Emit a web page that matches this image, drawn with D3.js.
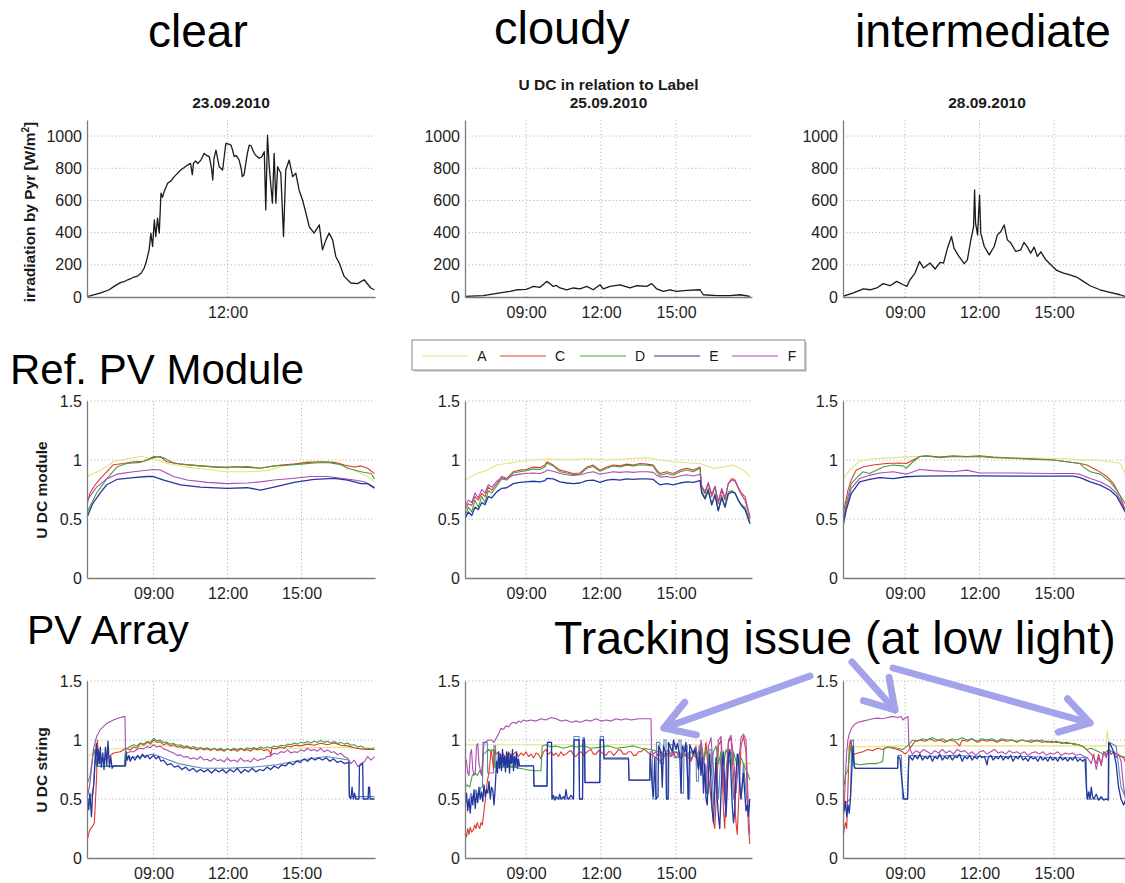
<!DOCTYPE html>
<html>
<head>
<meta charset="utf-8">
<script src="https://cdn.jsdelivr.net/npm/d3@7"></script>
<style>
  body { margin: 0; background: #fff; }
  svg { display: block; }
  text { font-family: "Liberation Sans", Arial, Helvetica, sans-serif; }
</style>
</head>
<body>
<svg id="fig" width="1125" height="883"></svg>
<script>
// ---------------------------------------------------------------
// Data: time of day in decimal hours, value
// ---------------------------------------------------------------
const dayLabels = ["23.09.2010", "25.09.2010", "28.09.2010"];
const dayKinds = ["clear", "cloudy", "intermediate"];
const hourTicks = [9, 12, 15];
const hourLabels = ["09:00", "12:00", "15:00"];
const irrTicks = [0, 200, 400, 600, 800, 1000];
const udcTicks = [0, 0.5, 1, 1.5];
const seriesNames = ["A", "C", "D", "E", "F"];
const seriesColors = ["#e4e47c", "#df3a30", "#43a043", "#24379f", "#a84db2"];
const extraName = "B";
const extraColor = "#5f86b8";

// Pyranometer irradiation [W/m2]
const irrClear = [[6.35,4],[6.86,25],[7.2,45],[7.4,66],[7.55,80],[7.68,91],[7.8,95],[7.95,107],[8.05,112],[8.2,124],[8.35,130],[8.5,149],[8.62,180],[8.69,211],[8.82,293],[8.89,397],[8.96,314],[9.03,479],[9.09,376],[9.16,490],[9.23,397],[9.3,645],[9.36,620],[9.43,655],[9.57,707],[9.7,720],[9.84,748],[9.95,765],[10.1,789],[10.2,800],[10.38,820],[10.5,830],[10.57,760],[10.62,832],[10.7,845],[10.8,830],[10.92,851],[11.05,893],[11.15,880],[11.26,872],[11.35,800],[11.4,727],[11.45,860],[11.53,913],[11.66,810],[11.8,789],[11.93,955],[12.05,950],[12.14,944],[12.2,915],[12.27,872],[12.35,880],[12.47,851],[12.55,800],[12.6,748],[12.67,760],[12.74,830],[12.8,890],[12.88,944],[12.95,940],[13.08,893],[13.15,880],[13.28,862],[13.38,870],[13.49,903],[13.55,541],[13.62,1006],[13.69,810],[13.82,583],[13.89,893],[13.96,583],[14.03,810],[14.16,769],[14.27,376],[14.36,789],[14.5,851],[14.64,748],[14.77,769],[14.9,665],[15.04,603],[15.18,521],[15.31,438],[15.51,397],[15.72,448],[15.85,293],[15.99,355],[16.12,397],[16.26,355],[16.39,252],[16.53,211],[16.73,128],[17.0,87],[17.27,83],[17.54,107],[17.81,56],[17.95,45]];
const irrCloudy = [[6.56,4],[7.29,8],[7.96,25],[8.36,35],[8.63,45],[9.0,48],[9.16,56],[9.29,66],[9.56,60],[9.83,97],[9.96,83],[10.09,66],[10.22,72],[10.36,56],[10.63,45],[10.89,56],[11.16,50],[11.43,66],[11.69,45],[11.96,76],[12.09,50],[12.36,66],[12.76,76],[13.16,56],[13.43,70],[13.83,66],[14.03,83],[14.23,50],[14.49,35],[14.76,45],[15.03,35],[15.43,41],[15.96,45],[16.09,14],[16.63,8],[17.16,8],[17.56,14],[17.96,4]];
const irrInter = [[6.49,4],[6.92,25],[7.32,50],[7.59,45],[7.86,56],[8.12,83],[8.4,70],[8.66,97],[8.93,76],[9.07,66],[9.2,107],[9.4,149],[9.58,221],[9.74,180],[10.01,211],[10.21,174],[10.41,215],[10.55,210],[10.71,304],[10.87,376],[10.97,304],[11.17,252],[11.38,207],[11.51,231],[11.65,355],[11.76,438],[11.8,665],[11.84,459],[11.92,386],[12.0,634],[12.05,397],[12.19,314],[12.39,262],[12.59,314],[12.72,386],[12.86,407],[12.99,448],[13.12,355],[13.26,335],[13.46,283],[13.66,293],[13.79,339],[13.93,310],[14.06,273],[14.2,310],[14.33,252],[14.47,281],[14.67,231],[14.94,190],[15.11,165],[15.38,149],[15.64,138],[15.91,124],[16.18,97],[16.45,70],[16.85,45],[17.25,29],[17.66,14],[17.86,4]];

// Reference module U DC, relative to label
const modClearA = [[6.31,0.86],[6.83,0.91],[7.37,0.985],[7.91,1.01],[8.46,1.03],[9.0,1.01],[9.54,0.97],[10.36,0.94],[11.17,0.92],[11.99,0.9],[12.8,0.9],[13.61,0.91],[14.43,0.96],[15.24,0.985],[16.06,0.985],[16.6,0.97],[17.14,0.91],[17.68,0.86],[17.96,0.815]];
const modClearC = [[6.31,0.63],[6.42,0.72],[6.63,0.79],[6.83,0.84],[7.1,0.9],[7.37,0.96],[7.78,0.97],[8.19,0.985],[8.59,0.99],[9.0,1.02],[9.27,1.03],[9.54,0.985],[10.09,0.965],[10.9,0.95],[11.58,0.94],[12.0,0.935],[12.26,0.945],[12.5,0.94],[13.07,0.935],[13.3,0.93],[13.61,0.94],[14.16,0.957],[14.7,0.965],[15.24,0.98],[15.78,0.985],[16.33,0.98],[16.73,0.957],[17.14,0.94],[17.41,0.95],[17.68,0.93],[17.96,0.885]];
const modClearD = [[6.31,0.56],[6.69,0.72],[7.1,0.84],[7.51,0.94],[7.91,0.97],[8.46,0.98],[8.73,1.0],[9.0,1.03],[9.41,1.02],[9.81,0.975],[10.36,0.96],[10.9,0.95],[11.58,0.94],[12.26,0.94],[12.8,0.945],[13.34,0.93],[13.88,0.95],[14.43,0.955],[14.98,0.965],[15.51,0.975],[16.06,0.98],[16.6,0.96],[16.87,0.93],[17.41,0.9],[17.82,0.885],[17.96,0.84]];
const modClearE = [[6.31,0.52],[6.53,0.63],[6.83,0.72],[7.1,0.79],[7.51,0.835],[8.19,0.85],[8.73,0.86],[9.0,0.86],[9.41,0.83],[10.09,0.79],[10.9,0.77],[11.99,0.76],[12.8,0.765],[13.34,0.745],[13.88,0.77],[14.7,0.81],[15.51,0.835],[16.33,0.845],[16.87,0.83],[17.41,0.8],[17.68,0.8],[17.96,0.76]];
const modClearF = [[6.31,0.66],[6.69,0.77],[7.1,0.84],[7.51,0.88],[8.19,0.9],[9.0,0.92],[9.27,0.915],[9.81,0.86],[10.36,0.83],[11.17,0.81],[11.99,0.8],[12.8,0.805],[13.34,0.815],[13.88,0.83],[14.7,0.845],[15.38,0.86],[16.06,0.86],[16.6,0.845],[17.14,0.83],[17.55,0.815],[17.96,0.77]];

const modCloudyA = [[6.56,0.83],[7.03,0.886],[7.43,0.914],[7.83,0.957],[8.23,0.97],[8.76,0.99],[9.29,1.0],[9.96,1.01],[10.63,1.0],[11.43,1.01],[12.23,1.0],[13.03,1.01],[13.83,1.02],[14.36,1.0],[14.89,0.985],[15.43,0.977],[15.96,0.97],[16.49,0.93],[16.89,0.94],[17.29,0.957],[17.69,0.914],[17.96,0.86]];
const modCloudyC = [[6.56,0.575],[6.69,0.63],[6.83,0.615],[6.96,0.69],[7.09,0.66],[7.23,0.716],[7.36,0.69],[7.49,0.77],[7.63,0.745],[7.83,0.8],[8.03,0.86],[8.23,0.843],[8.49,0.9],[8.76,0.914],[9.0,0.92],[9.29,0.94],[9.56,0.935],[9.76,0.957],[9.83,0.985],[10.09,0.957],[10.36,0.914],[10.63,0.9],[10.89,0.886],[11.16,0.89],[11.43,0.94],[11.69,0.957],[11.96,0.914],[12.23,0.94],[12.49,0.957],[12.76,0.95],[13.03,0.965],[13.29,0.957],[13.56,0.97],[13.83,0.965],[14.09,0.957],[14.23,0.914],[14.36,0.886],[14.63,0.9],[14.89,0.886],[15.16,0.914],[15.43,0.93],[15.69,0.914],[15.96,0.94],[16.03,0.77],[16.16,0.716],[16.29,0.8],[16.43,0.69],[16.56,0.77],[16.69,0.63],[16.83,0.744],[16.96,0.66],[17.09,0.8],[17.23,0.843],[17.36,0.83],[17.49,0.77],[17.63,0.716],[17.76,0.69],[17.89,0.575],[17.96,0.52]];
const modCloudyD = [[6.56,0.52],[6.69,0.6],[6.83,0.56],[6.96,0.66],[7.09,0.6],[7.23,0.69],[7.36,0.64],[7.49,0.74],[7.63,0.72],[7.83,0.78],[8.03,0.84],[8.23,0.83],[8.49,0.89],[8.76,0.9],[9.0,0.91],[9.29,0.925],[9.56,0.92],[9.76,0.94],[9.83,0.975],[10.09,0.95],[10.36,0.9],[10.63,0.89],[10.89,0.875],[11.16,0.88],[11.43,0.93],[11.69,0.945],[11.96,0.905],[12.23,0.93],[12.49,0.95],[12.76,0.94],[13.03,0.955],[13.29,0.95],[13.56,0.96],[13.83,0.955],[14.09,0.95],[14.23,0.9],[14.36,0.87],[14.63,0.885],[14.89,0.87],[15.16,0.9],[15.43,0.915],[15.69,0.9],[15.96,0.93],[16.03,0.74],[16.16,0.68],[16.29,0.76],[16.43,0.62],[16.56,0.72],[16.69,0.57],[16.83,0.7],[16.96,0.6],[17.09,0.73],[17.23,0.74],[17.36,0.72],[17.49,0.66],[17.63,0.62],[17.76,0.6],[17.89,0.52],[17.96,0.47]];
const modCloudyE = [[6.56,0.5],[6.69,0.56],[6.83,0.53],[6.96,0.6],[7.09,0.58],[7.23,0.64],[7.36,0.62],[7.49,0.69],[7.63,0.68],[7.83,0.73],[8.03,0.76],[8.23,0.765],[8.49,0.8],[8.76,0.81],[9.0,0.815],[9.29,0.82],[9.56,0.815],[9.76,0.825],[9.83,0.845],[10.09,0.84],[10.36,0.815],[10.63,0.805],[10.89,0.8],[11.16,0.805],[11.43,0.825],[11.69,0.83],[11.96,0.81],[12.23,0.83],[12.49,0.835],[12.76,0.83],[13.03,0.84],[13.29,0.835],[13.56,0.84],[13.83,0.84],[14.09,0.835],[14.23,0.81],[14.36,0.79],[14.63,0.8],[14.89,0.79],[15.16,0.805],[15.43,0.815],[15.69,0.81],[15.96,0.825],[16.03,0.72],[16.16,0.67],[16.29,0.74],[16.43,0.62],[16.56,0.7],[16.69,0.57],[16.83,0.68],[16.96,0.6],[17.09,0.71],[17.23,0.73],[17.36,0.72],[17.49,0.66],[17.63,0.61],[17.76,0.58],[17.89,0.5],[17.96,0.46]];
const modCloudyF = [[6.56,0.6],[6.69,0.66],[6.83,0.64],[6.96,0.72],[7.09,0.68],[7.23,0.75],[7.36,0.72],[7.49,0.79],[7.63,0.77],[7.83,0.82],[8.03,0.85],[8.23,0.84],[8.49,0.87],[8.76,0.88],[9.0,0.885],[9.29,0.89],[9.56,0.885],[9.76,0.9],[9.83,0.915],[10.09,0.905],[10.36,0.885],[10.63,0.875],[10.89,0.87],[11.16,0.875],[11.43,0.89],[11.69,0.9],[11.96,0.88],[12.23,0.89],[12.49,0.9],[12.76,0.895],[13.03,0.9],[13.29,0.895],[13.56,0.9],[13.83,0.9],[14.09,0.895],[14.23,0.87],[14.36,0.855],[14.63,0.86],[14.89,0.85],[15.16,0.865],[15.43,0.875],[15.69,0.865],[15.96,0.88],[16.03,0.78],[16.16,0.73],[16.29,0.81],[16.43,0.71],[16.56,0.78],[16.69,0.65],[16.83,0.76],[16.96,0.68],[17.09,0.8],[17.23,0.83],[17.36,0.82],[17.49,0.76],[17.63,0.7],[17.76,0.66],[17.89,0.56],[17.96,0.5]];

const modInterA = [[6.47,0.83],[6.77,0.914],[7.17,0.99],[7.71,1.01],[8.52,1.02],[9.32,1.03],[10.67,1.03],[12.01,1.025],[13.36,1.02],[14.71,1.015],[15.51,1.01],[16.05,1.0],[16.73,1.0],[17.26,0.985],[17.67,0.97],[17.87,0.886],[18.1,0.84]];
const modInterC = [[6.47,0.49],[6.56,0.6],[6.7,0.744],[6.83,0.83],[7.03,0.914],[7.3,0.94],[7.71,0.957],[8.25,0.97],[8.78,0.975],[9.05,0.97],[9.32,1.0],[9.59,1.03],[9.86,1.035],[10.4,1.025],[10.94,1.035],[11.48,1.03],[12.01,1.036],[12.55,1.025],[13.36,1.015],[14.17,1.01],[14.98,1.0],[15.51,0.985],[16.05,0.97],[16.32,0.957],[16.73,0.914],[17.13,0.86],[17.4,0.8],[17.67,0.69],[17.87,0.575],[18.1,0.45]];
const modInterD = [[6.47,0.43],[6.63,0.63],[6.83,0.8],[7.1,0.86],[7.3,0.9],[7.57,0.886],[7.84,0.914],[8.11,0.94],[8.52,0.957],[8.92,0.95],[9.05,0.93],[9.32,0.985],[9.59,1.03],[9.86,1.035],[10.4,1.02],[10.94,1.03],[11.48,1.025],[12.01,1.03],[12.55,1.02],[13.36,1.015],[14.17,1.005],[14.98,1.0],[15.51,0.985],[16.05,0.97],[16.19,0.94],[16.46,0.9],[16.86,0.88],[17.26,0.815],[17.53,0.744],[17.87,0.63],[18.1,0.5]];
const modInterE = [[6.47,0.405],[6.63,0.575],[6.83,0.716],[7.17,0.815],[7.57,0.835],[7.98,0.85],[8.52,0.843],[9.05,0.858],[9.59,0.863],[10.67,0.865],[12.01,0.865],[13.36,0.863],[14.71,0.863],[15.78,0.863],[16.05,0.85],[16.46,0.815],[16.86,0.787],[17.26,0.744],[17.53,0.69],[17.87,0.56],[18.1,0.42]];
const modInterF = [[6.47,0.46],[6.63,0.6],[6.83,0.76],[7.17,0.843],[7.57,0.87],[7.98,0.89],[8.52,0.9],[9.05,0.88],[9.59,0.92],[10.13,0.91],[10.94,0.9],[11.48,0.914],[12.01,0.89],[13.36,0.89],[14.71,0.886],[15.78,0.886],[16.05,0.878],[16.46,0.843],[16.86,0.815],[17.26,0.77],[17.53,0.716],[17.87,0.575],[18.1,0.45]];

// PV array string U DC, relative to label
const strClearA = [[6.31,0.86],[6.83,0.92],[7.86,0.93],[9.0,0.96],[10.9,0.92],[12.8,0.92],[14.7,0.93],[16.6,0.94],[17.96,0.92]];
const strClearB = [[6.31,0.48],[6.55,0.55],[6.62,0.85],[6.7,0.78],[7.86,0.78],[7.88,0.85],[8.5,0.86],[9.0,0.88],[10.0,0.8],[11.0,0.76],[12.0,0.76],[13.0,0.77],[14.0,0.79],[15.0,0.83],[16.0,0.86],[16.92,0.83],[16.94,0.52],[17.96,0.52]];
const strClearC = [[6.31,0.155],[6.42,0.24],[6.53,0.27],[6.6,0.3],[6.69,0.69],[6.72,1.0],[6.76,0.86],[6.8,0.8],[6.94,0.83],[7.1,0.84],[7.37,0.89],[7.64,0.9],[7.89,0.93],[8.05,0.915],[8.19,0.94],[8.33,0.93],[8.46,0.97],[8.6,0.955],[8.73,0.98],[8.87,0.965],[9.0,1.0],[9.13,0.98],[9.27,0.985],[9.4,0.96],[9.54,0.97],[9.68,0.95],[9.81,0.96],[9.95,0.94],[10.09,0.945],[10.22,0.93],[10.36,0.94],[10.5,0.925],[10.63,0.93],[10.77,0.915],[10.9,0.935],[11.04,0.915],[11.17,0.925],[11.31,0.91],[11.45,0.93],[11.58,0.91],[11.72,0.92],[11.86,0.905],[11.99,0.925],[12.13,0.91],[12.26,0.92],[12.4,0.905],[12.53,0.925],[12.67,0.91],[12.8,0.92],[12.94,0.905],[13.07,0.93],[13.21,0.915],[13.34,0.925],[13.48,0.91],[13.61,0.92],[13.72,0.9],[13.75,0.86],[13.8,0.93],[13.98,0.925],[14.16,0.94],[14.3,0.93],[14.43,0.95],[14.57,0.94],[14.7,0.955],[14.97,0.95],[15.24,0.965],[15.51,0.955],[15.78,0.972],[16.05,0.96],[16.33,0.975],[16.6,0.955],[16.87,0.95],[17.14,0.935],[17.41,0.925],[17.68,0.92],[17.96,0.92]];
const strClearD = [[6.31,0.63],[6.42,0.69],[6.53,0.86],[6.6,0.92],[6.69,0.775],[7.37,0.775],[7.81,0.78],[7.86,0.92],[8.0,0.94],[8.19,0.96],[8.33,0.95],[8.46,0.975],[8.6,0.965],[8.73,0.987],[8.87,0.98],[9.0,1.015],[9.13,0.995],[9.27,1.0],[9.4,0.98],[9.54,0.98],[9.68,0.965],[9.81,0.97],[9.95,0.955],[10.09,0.96],[10.22,0.945],[10.36,0.95],[10.5,0.935],[10.63,0.945],[10.77,0.93],[10.9,0.935],[11.04,0.925],[11.17,0.935],[11.31,0.92],[11.45,0.93],[11.58,0.92],[11.72,0.93],[11.86,0.915],[11.99,0.925],[12.13,0.915],[12.26,0.93],[12.4,0.92],[12.53,0.93],[12.67,0.92],[12.8,0.935],[12.94,0.925],[13.07,0.935],[13.21,0.925],[13.34,0.94],[13.48,0.93],[13.61,0.94],[13.75,0.935],[13.88,0.95],[14.02,0.94],[14.16,0.955],[14.3,0.95],[14.43,0.965],[14.57,0.96],[14.7,0.975],[14.84,0.965],[14.97,0.98],[15.11,0.975],[15.24,0.987],[15.38,0.975],[15.51,0.99],[15.65,0.98],[15.78,0.995],[15.92,0.98],[16.05,0.99],[16.19,0.975],[16.33,0.987],[16.46,0.97],[16.6,0.98],[16.73,0.965],[16.87,0.975],[17.0,0.955],[17.14,0.96],[17.28,0.94],[17.41,0.95],[17.55,0.93],[17.68,0.93],[17.82,0.925],[17.96,0.935]];
const strClearE = [[6.31,0.52],[6.37,0.41],[6.42,0.55],[6.48,0.35],[6.53,0.56],[6.58,0.63],[6.64,0.86],[6.68,0.97],[6.72,0.78],[6.76,0.92],[6.8,0.8],[6.84,0.94],[6.88,0.77],[6.94,0.89],[6.99,0.75],[7.05,0.94],[7.1,0.78],[7.15,0.99],[7.21,0.77],[7.26,0.86],[7.32,0.76],[7.37,0.78],[7.86,0.78],[7.89,0.89],[7.94,0.83],[8.0,0.87],[8.05,0.82],[8.15,0.86],[8.25,0.83],[8.35,0.87],[8.45,0.84],[8.55,0.88],[8.65,0.85],[8.75,0.87],[8.85,0.84],[9.0,0.87],[9.1,0.84],[9.2,0.86],[9.3,0.82],[9.4,0.83],[9.55,0.79],[9.7,0.8],[9.85,0.77],[10.0,0.78],[10.15,0.75],[10.3,0.77],[10.45,0.74],[10.6,0.76],[10.75,0.73],[10.9,0.75],[11.05,0.73],[11.2,0.75],[11.35,0.72],[11.5,0.75],[11.65,0.73],[11.8,0.75],[11.95,0.72],[12.1,0.75],[12.25,0.73],[12.4,0.76],[12.55,0.72],[12.7,0.75],[12.85,0.73],[13.0,0.76],[13.15,0.73],[13.3,0.75],[13.45,0.74],[13.6,0.77],[13.75,0.75],[13.9,0.78],[14.05,0.76],[14.2,0.79],[14.35,0.78],[14.5,0.81],[14.65,0.79],[14.8,0.82],[14.95,0.81],[15.1,0.84],[15.25,0.82],[15.4,0.85],[15.55,0.83],[15.7,0.85],[15.85,0.83],[16.0,0.85],[16.15,0.82],[16.3,0.84],[16.45,0.81],[16.6,0.82],[16.75,0.8],[16.92,0.81],[16.94,0.52],[17.0,0.5],[17.05,0.6],[17.1,0.5],[17.15,0.55],[17.2,0.5],[17.33,0.5],[17.35,0.78],[17.48,0.8],[17.5,0.5],[17.7,0.5],[17.72,0.6],[17.76,0.6],[17.78,0.5],[17.96,0.5]];
const strClearF = [[6.29,0.49],[6.42,0.63],[6.56,0.92],[6.69,1.03],[6.83,1.085],[7.1,1.14],[7.37,1.17],[7.64,1.19],[7.84,1.2],[7.86,0.92],[7.91,0.89],[8.05,0.9],[8.19,0.9],[8.33,0.92],[8.46,0.93],[8.6,0.925],[8.73,0.944],[8.87,0.935],[9.0,0.96],[9.13,0.94],[9.27,0.95],[9.4,0.925],[9.54,0.916],[9.68,0.9],[9.81,0.89],[9.95,0.87],[10.09,0.874],[10.22,0.855],[10.36,0.86],[10.5,0.84],[10.63,0.85],[10.77,0.835],[10.9,0.86],[11.04,0.83],[11.17,0.837],[11.31,0.82],[11.45,0.846],[11.58,0.825],[11.72,0.832],[11.86,0.815],[11.99,0.846],[12.13,0.82],[12.26,0.83],[12.4,0.815],[12.53,0.846],[12.67,0.82],[12.8,0.826],[12.94,0.815],[13.07,0.846],[13.21,0.825],[13.34,0.837],[13.48,0.84],[13.61,0.86],[13.75,0.865],[13.88,0.888],[14.02,0.88],[14.16,0.9],[14.3,0.895],[14.43,0.916],[14.57,0.89],[14.7,0.9],[14.84,0.895],[14.98,0.916],[15.11,0.905],[15.24,0.93],[15.38,0.91],[15.51,0.92],[15.65,0.905],[15.78,0.93],[15.92,0.9],[16.06,0.916],[16.19,0.895],[16.33,0.9],[16.46,0.875],[16.6,0.888],[16.73,0.86],[16.87,0.846],[17.0,0.8],[17.14,0.83],[17.28,0.775],[17.41,0.8],[17.55,0.815],[17.68,0.86],[17.82,0.83],[17.96,0.86]];

const strCloudyA = [[6.57,0.96],[16.25,0.96],[16.27,0.8],[18.0,0.8]];
const strCloudyB = [[6.57,0.5],[6.7,0.45],[6.8,0.55],[6.9,0.5],[7.0,0.58],[7.1,0.52],[7.2,0.6],[7.26,0.6],[7.28,0.98],[7.45,0.98],[7.47,0.72],[7.7,0.72],[7.72,0.95],[7.78,0.95],[7.8,0.78],[9.3,0.78],[9.32,0.61],[9.84,0.61],[9.86,0.98],[10.02,0.98],[10.04,0.5],[10.9,0.5],[10.92,1.03],[11.12,1.03],[11.14,0.5],[11.26,0.5],[11.28,1.02],[11.34,1.02],[11.36,0.64],[11.95,0.64],[11.97,1.03],[12.1,1.03],[12.12,0.85],[13.1,0.85],[13.12,0.66],[13.95,0.66],[13.97,0.9],[14.05,0.9],[14.07,0.5],[14.2,0.5],[14.22,0.98],[14.35,0.98],[14.37,0.8],[14.5,0.8],[14.52,1.0],[14.6,1.0],[14.62,0.5],[14.7,0.5],[14.72,0.96],[14.9,0.96],[14.92,0.85],[15.1,0.85],[15.12,1.0],[15.2,1.0],[15.22,0.55],[15.3,0.55],[15.32,0.95],[15.45,0.95],[15.47,0.5],[15.55,0.5],[15.57,0.9],[15.8,0.9],[15.82,0.65],[15.9,0.65],[15.92,0.95],[16.0,0.95],[16.02,0.78],[16.2,0.78],[16.22,0.55],[16.3,0.55],[16.32,0.92],[16.4,0.92],[16.5,0.45],[16.6,0.8],[16.7,0.5],[16.8,0.9],[16.9,0.6],[17.0,0.4],[17.1,0.85],[17.2,0.9],[17.3,0.5],[17.4,0.7],[17.5,0.88],[17.6,0.5],[17.7,0.8],[17.8,0.55],[17.9,0.4],[17.95,0.45]];
const strCloudyC = [[6.57,0.22],[6.62,0.18],[6.67,0.25],[6.72,0.2],[6.77,0.26],[6.82,0.22],[6.9,0.24],[6.95,0.28],[7.0,0.25],[7.05,0.3],[7.1,0.27],[7.15,0.25],[7.2,0.3],[7.25,0.28],[7.3,0.36],[7.35,0.45],[7.4,0.55],[7.45,0.65],[7.5,0.7],[7.55,0.78],[7.6,0.92],[7.65,0.85],[7.7,0.75],[7.75,0.92],[7.8,0.88],[7.9,0.9],[8.0,0.85],[8.1,0.88],[8.2,0.84],[8.3,0.9],[8.4,0.86],[8.5,0.88],[8.6,0.9],[8.7,0.86],[8.8,0.89],[8.9,0.87],[9.0,0.9],[9.1,0.86],[9.2,0.88],[9.3,0.85],[9.4,0.89],[9.5,0.88],[9.6,0.84],[9.7,0.9],[9.8,0.92],[9.9,0.88],[10.0,0.9],[10.1,0.87],[10.2,0.89],[10.3,0.86],[10.4,0.9],[10.5,0.87],[10.6,0.88],[10.7,0.9],[10.8,0.91],[10.9,0.87],[11.0,0.86],[11.1,0.89],[11.2,0.9],[11.3,0.87],[11.4,0.89],[11.5,0.91],[11.6,0.92],[11.7,0.88],[11.8,0.88],[11.9,0.91],[12.0,0.9],[12.1,0.88],[12.2,0.87],[12.3,0.9],[12.4,0.9],[12.5,0.87],[12.6,0.89],[12.7,0.92],[12.8,0.91],[12.9,0.88],[13.0,0.88],[13.1,0.9],[13.2,0.9],[13.3,0.87],[13.4,0.87],[13.5,0.9],[13.6,0.9],[13.7,0.92],[13.8,0.91],[13.9,0.89],[14.0,0.88],[14.2,0.85],[14.4,0.82],[14.6,0.88],[14.8,0.86],[15.0,0.9],[15.2,0.85],[15.4,0.88],[15.6,0.82],[15.8,0.92],[15.9,0.75],[16.0,0.95],[16.1,0.8],[16.2,0.98],[16.3,0.7],[16.4,0.5],[16.5,0.3],[16.55,0.25],[16.6,0.45],[16.7,0.95],[16.8,1.0],[16.85,0.7],[16.9,0.4],[16.95,0.25],[17.0,0.55],[17.1,0.98],[17.2,1.02],[17.3,0.7],[17.35,0.45],[17.4,0.3],[17.45,0.2],[17.5,0.45],[17.6,0.95],[17.7,1.03],[17.8,0.9],[17.85,0.5],[17.9,0.25],[17.95,0.12]];
const strCloudyD = [[6.57,0.6],[6.65,0.62],[6.75,0.6],[6.85,0.7],[6.95,0.72],[7.05,0.7],[7.15,0.74],[7.25,0.7],[7.3,0.88],[7.4,0.9],[7.5,0.92],[7.6,0.9],[7.7,0.92],[7.75,0.77],[8.0,0.77],[8.5,0.77],[8.75,0.76],[9.0,0.75],[9.3,0.74],[9.6,0.74],[9.65,0.95],[9.8,0.96],[10.0,0.94],[10.2,0.95],[10.5,0.93],[10.8,0.95],[11.0,0.94],[11.3,0.95],[11.6,0.93],[12.0,0.94],[12.3,0.95],[12.6,0.93],[13.0,0.94],[13.3,0.95],[13.6,0.93],[14.0,0.92],[14.3,0.9],[14.6,0.88],[15.0,0.9],[15.3,0.87],[15.6,0.9],[15.8,0.85],[16.0,0.95],[16.1,0.8],[16.2,0.92],[16.3,0.85],[16.4,0.7],[16.5,0.9],[16.6,0.95],[16.7,0.8],[16.8,0.9],[16.9,0.78],[17.0,0.92],[17.1,0.85],[17.2,0.78],[17.3,0.9],[17.4,0.82],[17.5,0.78],[17.6,0.85],[17.7,0.8],[17.8,0.75],[17.9,0.7],[17.95,0.66]];
const strCloudyE = [[6.57,0.45],[6.62,0.55],[6.67,0.4],[6.72,0.5],[6.77,0.38],[6.82,0.52],[6.87,0.45],[6.92,0.58],[6.97,0.42],[7.02,0.55],[7.07,0.47],[7.12,0.6],[7.17,0.5],[7.22,0.56],[7.27,0.48],[7.32,0.62],[7.37,0.52],[7.42,0.58],[7.47,0.55],[7.52,0.65],[7.57,0.5],[7.62,0.6],[7.67,0.58],[7.72,0.45],[7.77,0.6],[7.82,0.82],[7.86,0.72],[7.9,0.9],[7.94,0.76],[7.98,0.88],[8.02,0.74],[8.06,0.92],[8.1,0.78],[8.14,0.86],[8.18,0.73],[8.22,0.9],[8.26,0.77],[8.3,0.89],[8.34,0.72],[8.38,0.88],[8.42,0.8],[8.46,0.92],[8.5,0.74],[8.54,0.86],[8.58,0.78],[8.62,0.9],[8.66,0.76],[8.7,0.84],[8.74,0.78],[9.3,0.78],[9.32,0.61],[9.84,0.61],[9.86,0.98],[10.02,0.98],[10.04,0.5],[10.1,0.53],[10.15,0.49],[10.2,0.52],[10.3,0.5],[10.35,0.54],[10.4,0.5],[10.5,0.52],[10.55,0.5],[10.6,0.58],[10.65,0.51],[10.7,0.5],[10.8,0.53],[10.9,0.5],[10.92,1.0],[11.12,1.0],[11.14,0.5],[11.26,0.5],[11.28,1.0],[11.34,1.0],[11.36,0.64],[11.95,0.64],[11.97,1.0],[12.1,1.0],[12.12,0.84],[13.1,0.84],[13.12,0.66],[13.95,0.66],[13.97,0.88],[14.05,0.6],[14.1,0.52],[14.15,0.85],[14.2,0.5],[14.28,0.52],[14.3,0.95],[14.4,0.9],[14.45,0.6],[14.5,0.95],[14.6,0.88],[14.62,0.5],[14.68,0.5],[14.7,0.98],[14.85,0.9],[14.9,1.0],[15.0,0.92],[15.05,0.97],[15.15,0.88],[15.2,0.55],[15.25,0.95],[15.35,0.9],[15.4,0.98],[15.5,0.5],[15.55,0.96],[15.7,0.88],[15.75,0.93],[15.85,0.82],[15.9,0.75],[15.95,0.9],[16.0,0.7],[16.05,0.85],[16.1,0.55],[16.15,0.8],[16.2,0.5],[16.25,0.45],[16.3,0.75],[16.35,0.88],[16.4,0.62],[16.45,0.4],[16.5,0.3],[16.55,0.6],[16.6,0.85],[16.65,0.5],[16.7,0.35],[16.75,0.25],[16.8,0.55],[16.85,0.8],[16.9,0.9],[16.95,0.6],[17.0,0.35],[17.05,0.6],[17.1,0.88],[17.15,0.92],[17.2,0.7],[17.25,0.45],[17.3,0.3],[17.35,0.4],[17.4,0.7],[17.45,0.88],[17.5,0.85],[17.55,0.6],[17.6,0.5],[17.7,0.72],[17.75,0.55],[17.8,0.4],[17.85,0.45],[17.9,0.35],[17.95,0.5]];
const strCloudyF = [[6.57,0.85],[6.62,0.82],[6.67,0.72],[6.72,0.7],[6.77,0.88],[6.82,0.92],[6.87,0.75],[6.92,0.7],[6.97,0.72],[7.02,0.95],[7.07,0.97],[7.12,0.8],[7.17,0.75],[7.22,0.7],[7.27,0.85],[7.32,0.97],[7.42,0.99],[7.52,1.0],[7.62,1.0],[7.72,0.98],[7.82,1.02],[7.9,1.05],[8.0,1.1],[8.1,1.09],[8.2,1.12],[8.3,1.11],[8.4,1.14],[8.5,1.15],[8.6,1.14],[8.7,1.16],[8.8,1.15],[8.9,1.17],[9.0,1.16],[9.2,1.17],[9.4,1.16],[9.6,1.18],[9.8,1.17],[10.0,1.19],[10.2,1.18],[10.4,1.16],[10.6,1.17],[10.8,1.15],[11.0,1.16],[11.2,1.15],[11.4,1.17],[11.6,1.16],[11.8,1.18],[12.0,1.16],[12.2,1.17],[12.4,1.16],[12.6,1.18],[12.8,1.17],[13.0,1.18],[13.2,1.17],[13.5,1.18],[13.8,1.18],[14.0,1.18],[14.02,0.92],[14.1,0.88],[14.2,0.9],[14.3,0.86],[14.4,0.9],[14.5,0.85],[14.6,0.89],[14.7,0.92],[14.8,0.87],[14.9,0.9],[15.0,0.85],[15.1,0.88],[15.2,0.84],[15.3,0.9],[15.4,0.86],[15.5,0.88],[15.6,0.83],[15.7,0.9],[15.8,0.95],[15.9,0.78],[16.0,1.0],[16.1,0.85],[16.2,0.6],[16.3,0.95],[16.4,1.02],[16.5,0.75],[16.55,0.55],[16.6,0.8],[16.7,1.0],[16.8,1.03],[16.9,0.7],[16.95,0.5],[17.0,0.7],[17.1,1.0],[17.2,1.04],[17.3,0.85],[17.4,0.55],[17.5,0.8],[17.6,1.02],[17.7,1.05],[17.8,1.0],[17.85,0.7],[17.9,0.4],[17.95,0.2]];

const strInterA = [[6.5,0.9],[6.8,0.94],[9.0,0.95],[12.0,0.95],[15.0,0.95],[17.1,0.95],[17.15,1.08],[17.2,0.95],[17.9,0.95]];
const strInterB = [[6.5,0.45],[6.8,0.5],[6.85,1.0],[6.92,1.0],[6.95,0.76],[8.7,0.76],[8.72,0.87],[8.85,0.87],[8.9,0.5],[9.1,0.5],[9.15,0.87],[10.0,0.86],[11.0,0.87],[12.0,0.86],[13.0,0.86],[14.0,0.86],[15.0,0.85],[16.0,0.85],[16.3,0.85],[16.32,0.5],[17.2,0.5],[17.22,0.98],[17.5,0.95],[17.7,0.6],[17.9,0.5]];
const strInterC = [[6.5,0.18],[6.6,0.3],[6.65,0.25],[6.7,0.6],[6.75,0.95],[6.8,1.0],[6.85,0.9],[6.95,0.88],[7.1,0.89],[7.3,0.9],[7.5,0.92],[7.7,0.91],[7.9,0.93],[8.1,0.92],[8.3,0.94],[8.5,0.93],[8.7,0.92],[8.9,0.9],[9.0,0.88],[9.1,0.9],[9.2,0.93],[9.4,0.99],[9.6,1.0],[9.8,0.99],[10.0,1.01],[10.2,0.99],[10.4,1.0],[10.6,0.98],[10.8,1.0],[11.0,0.99],[11.2,0.95],[11.3,1.0],[11.5,0.99],[11.7,1.01],[11.9,0.98],[12.1,1.0],[12.3,0.99],[12.5,1.0],[12.7,0.98],[12.9,1.0],[13.1,0.99],[13.3,1.0],[13.5,0.98],[13.7,1.0],[13.9,0.99],[14.1,0.98],[14.3,1.0],[14.5,0.98],[14.7,0.99],[14.9,0.98],[15.1,0.99],[15.3,0.97],[15.5,0.98],[15.7,0.97],[15.8,0.97],[16.0,0.96],[16.2,0.94],[16.4,0.9],[16.5,0.88],[16.6,0.85],[16.7,0.8],[16.8,0.88],[16.9,0.78],[17.0,0.9],[17.1,0.87],[17.2,0.92],[17.3,0.88],[17.4,0.9],[17.6,0.87],[17.8,0.85],[17.9,0.8]];
const strInterD = [[6.5,0.65],[6.55,0.62],[6.6,0.7],[6.7,0.75],[6.8,0.95],[6.85,0.88],[6.95,0.8],[7.2,0.79],[7.5,0.8],[7.8,0.8],[8.0,0.81],[8.1,0.82],[8.15,0.93],[8.4,0.94],[8.7,0.93],[8.9,0.92],[9.1,0.95],[9.3,1.0],[9.5,0.99],[9.7,1.01],[9.9,1.0],[10.1,1.02],[10.3,1.0],[10.5,1.01],[10.7,0.99],[10.9,1.01],[11.1,1.0],[11.3,1.02],[11.5,1.0],[11.7,1.01],[11.9,0.99],[12.1,1.01],[12.3,1.0],[12.5,1.01],[12.7,0.99],[12.9,1.01],[13.1,1.0],[13.3,1.0],[13.5,0.99],[13.7,1.0],[13.9,0.99],[14.1,1.0],[14.3,0.99],[14.5,1.0],[14.7,0.98],[14.9,0.99],[15.1,0.98],[15.3,0.98],[15.5,0.97],[15.7,0.97],[15.8,0.96],[16.0,0.96],[16.2,0.94],[16.3,0.92],[16.5,0.93],[16.8,0.9],[17.0,0.88],[17.2,0.92],[17.5,0.88],[17.9,0.85]];
const strInterE = [[6.5,0.5],[6.55,0.4],[6.6,0.48],[6.65,0.35],[6.7,0.45],[6.75,0.38],[6.8,0.5],[6.85,0.72],[6.9,0.95],[6.95,0.78],[7.0,0.76],[8.7,0.76],[8.72,0.86],[8.8,0.84],[8.85,0.7],[8.9,0.6],[8.95,0.5],[9.1,0.5],[9.15,0.85],[9.2,0.86],[9.3,0.83],[9.4,0.87],[9.5,0.84],[9.6,0.88],[9.7,0.83],[9.8,0.86],[9.9,0.84],[10.0,0.87],[10.1,0.82],[10.2,0.86],[10.3,0.84],[10.4,0.88],[10.5,0.83],[10.6,0.86],[10.7,0.84],[10.8,0.87],[10.9,0.83],[11.0,0.86],[11.1,0.85],[11.2,0.88],[11.3,0.82],[11.4,0.86],[11.5,0.84],[11.6,0.87],[11.7,0.83],[11.8,0.86],[11.9,0.84],[12.0,0.87],[12.1,0.85],[12.2,0.86],[12.3,0.79],[12.35,0.85],[12.45,0.87],[12.55,0.83],[12.65,0.86],[12.75,0.84],[12.85,0.87],[12.95,0.83],[13.05,0.86],[13.15,0.84],[13.25,0.87],[13.35,0.82],[13.45,0.86],[13.55,0.84],[13.65,0.87],[13.75,0.83],[13.85,0.85],[13.95,0.82],[14.05,0.86],[14.15,0.84],[14.25,0.85],[14.35,0.82],[14.45,0.86],[14.55,0.83],[14.65,0.85],[14.75,0.82],[14.85,0.86],[14.95,0.83],[15.05,0.85],[15.15,0.82],[15.25,0.86],[15.35,0.83],[15.45,0.85],[15.55,0.82],[15.65,0.85],[15.75,0.83],[15.85,0.86],[15.95,0.82],[16.05,0.84],[16.15,0.82],[16.25,0.84],[16.3,0.6],[16.35,0.5],[16.4,0.56],[16.45,0.5],[16.5,0.6],[16.55,0.52],[16.6,0.5],[16.7,0.54],[16.8,0.49],[16.9,0.52],[17.0,0.49],[17.1,0.5],[17.18,0.49],[17.2,0.98],[17.3,0.95],[17.4,0.9],[17.5,0.8],[17.6,0.6],[17.7,0.5],[17.8,0.45],[17.9,0.5],[18.1,0.5]];
const strInterF = [[6.5,0.3],[6.55,0.45],[6.6,0.7],[6.65,0.9],[6.7,1.0],[6.75,1.05],[6.85,1.1],[6.95,1.13],[7.1,1.15],[7.3,1.16],[7.5,1.17],[7.7,1.18],[7.9,1.185],[8.1,1.18],[8.3,1.19],[8.5,1.2],[8.7,1.19],[8.85,1.2],[8.9,1.17],[9.05,1.19],[9.12,1.2],[9.15,0.98],[9.2,0.92],[9.3,0.88],[9.45,0.91],[9.6,0.89],[9.75,0.92],[9.9,0.9],[10.05,0.88],[10.2,0.91],[10.35,0.89],[10.5,0.92],[10.65,0.89],[10.8,0.91],[10.95,0.88],[11.1,0.92],[11.25,0.9],[11.4,0.91],[11.55,0.88],[11.7,0.9],[11.85,0.87],[12.0,0.9],[12.15,0.91],[12.3,0.88],[12.45,0.9],[12.6,0.92],[12.75,0.89],[12.9,0.9],[13.05,0.88],[13.2,0.91],[13.35,0.89],[13.5,0.9],[13.65,0.88],[13.8,0.9],[13.95,0.87],[14.1,0.89],[14.25,0.9],[14.4,0.88],[14.55,0.9],[14.7,0.87],[14.85,0.89],[15.0,0.88],[15.15,0.9],[15.3,0.87],[15.45,0.89],[15.6,0.88],[15.75,0.89],[15.9,0.87],[16.05,0.88],[16.2,0.86],[16.35,0.85],[16.5,0.8],[16.6,0.88],[16.7,0.75],[16.8,0.85],[16.9,0.8],[17.0,0.9],[17.1,0.85],[17.2,0.92],[17.3,0.88],[17.4,0.9],[17.5,0.85],[17.6,0.88],[17.7,0.82],[17.8,0.6],[17.9,0.5],[18.1,0.45]];

// ---------------------------------------------------------------
// Layout
// ---------------------------------------------------------------
const svg = d3.select("#fig");
const FONT = '"Liberation Sans", Arial, Helvetica, sans-serif';

const columns = [
  { left: 87,  right: 375,  domain: [6.3, 17.98] },
  { left: 465, right: 752,  domain: [6.56, 18.04] },
  { left: 843, right: 1131, domain: [6.5, 18.1] }
];
const rowsLayout = [
  { bottom: 297, top: 120, domain: [0, 1100], ticks: irrTicks, fmt: d3.format("d") },
  { bottom: 578, top: 401, domain: [0, 1.5],  ticks: udcTicks, fmt: d => String(d) },
  { bottom: 858, top: 681, domain: [0, 1.5],  ticks: udcTicks, fmt: d => String(d) }
];

const colorOf = name => name === extraName ? extraColor : seriesColors[seriesNames.indexOf(name)];

function setOf(A, B, C, D, E, F) {
  const list = [];
  if (A) list.push({ name: "A", data: A });
  if (B) list.push({ name: "B", data: B });
  if (C) list.push({ name: "C", data: C });
  if (D) list.push({ name: "D", data: D });
  if (F) list.push({ name: "F", data: F });
  if (E) list.push({ name: "E", data: E });
  return list;
}

const panels = [
  { r: 0, c: 0, irr: irrClear, xt: [12] },
  { r: 0, c: 1, irr: irrCloudy, xt: hourTicks },
  { r: 0, c: 2, irr: irrInter, xt: hourTicks },
  { r: 1, c: 0, lines: setOf(modClearA, null, modClearC, modClearD, modClearE, modClearF), xt: hourTicks },
  { r: 1, c: 1, lines: setOf(modCloudyA, null, modCloudyC, modCloudyD, modCloudyE, modCloudyF), xt: hourTicks },
  { r: 1, c: 2, lines: setOf(modInterA, null, modInterC, modInterD, modInterE, modInterF), xt: hourTicks },
  { r: 2, c: 0, lines: setOf(strClearA, strClearB, strClearC, strClearD, strClearE, strClearF), xt: hourTicks },
  { r: 2, c: 1, lines: setOf(strCloudyA, strCloudyB, strCloudyC, strCloudyD, strCloudyE, strCloudyF), xt: hourTicks },
  { r: 2, c: 2, lines: setOf(strInterA, strInterB, strInterC, strInterD, strInterE, strInterF), xt: hourTicks }
];

const defs = svg.append("defs");

panels.forEach((p, i) => {
  const col = columns[p.c], row = rowsLayout[p.r];
  const x = d3.scaleLinear().domain(col.domain).range([col.left, col.right]);
  const y = d3.scaleLinear().domain(row.domain).range([row.bottom, row.top]);
  const g = svg.append("g");

  // dotted grid
  const grid = g.append("g").attr("stroke", "#a8a8a8").attr("stroke-width", 1)
    .attr("stroke-dasharray", "1,2.6");
  grid.selectAll("line.h").data(row.ticks.filter(t => t > 0)).join("line")
    .attr("x1", col.left).attr("x2", col.right)
    .attr("y1", d => y(d)).attr("y2", d => y(d));
  grid.selectAll("line.v").data(p.xt).join("line")
    .attr("x1", d => x(d)).attr("x2", d => x(d))
    .attr("y1", row.bottom).attr("y2", row.top);

  // clipped data lines
  const clipId = "clip" + i;
  defs.append("clipPath").attr("id", clipId).append("rect")
    .attr("x", col.left).attr("y", row.top - 2)
    .attr("width", col.right - col.left).attr("height", row.bottom - row.top + 2);
  const plot = g.append("g").attr("clip-path", `url(#${clipId})`).attr("fill", "none");
  const line = d3.line().x(d => x(d[0])).y(d => y(d[1]));

  if (p.irr) {
    plot.append("path").attr("d", line(p.irr))
      .attr("stroke", "#1a1a1a").attr("stroke-width", 1.3).attr("stroke-linejoin", "round");
  } else {
    p.lines.forEach(s => {
      plot.append("path").attr("d", line(s.data))
        .attr("stroke", colorOf(s.name))
        .attr("stroke-width", s.name === "E" ? 1.3 : 1.1)
        .attr("stroke-linejoin", "round");
    });
  }

  // axes
  const yAxis = d3.axisLeft(y).tickValues(row.ticks).tickFormat(row.fmt)
    .tickSize(0).tickSizeOuter(0).tickPadding(5);
  const xAxis = d3.axisBottom(x).tickValues(p.xt)
    .tickFormat(d => hourLabels[hourTicks.indexOf(d)])
    .tickSize(0).tickSizeOuter(0).tickPadding(10);
  const ya = g.append("g").attr("transform", `translate(${col.left},0)`).call(yAxis);
  const xa = g.append("g").attr("transform", `translate(0,${row.bottom})`).call(xAxis);
  [ya, xa].forEach(a => {
    a.select(".domain").attr("stroke", "#7c7c7c").attr("stroke-width", 1.3);
    a.selectAll("text").attr("font-family", FONT).attr("font-size", 16).attr("fill", "#1e1e1e");
  });
});

// panel titles
const titleCenters = columns.map(c => (c.left + c.right) / 2);
svg.selectAll("text.day").data(dayLabels).join("text")
  .attr("x", (d, i) => titleCenters[i]).attr("y", 108)
  .attr("text-anchor", "middle").attr("font-size", 15.5).attr("font-weight", "bold")
  .attr("fill", "#1a1a1a").text(d => d);
svg.append("text").attr("x", titleCenters[1]).attr("y", 90)
  .attr("text-anchor", "middle").attr("font-size", 15.5).attr("font-weight", "bold")
  .attr("fill", "#1a1a1a").text("U DC in relation to Label");

// y-axis labels
const yl = svg.append("text").attr("transform", "translate(35,212) rotate(-90)")
  .attr("text-anchor", "middle").attr("font-size", 15.5).attr("font-weight", "bold").attr("fill", "#1a1a1a");
yl.append("tspan").text("irradiation by Pyr [W/m");
yl.append("tspan").attr("font-size", 10).attr("dy", -6).text("2");
yl.append("tspan").attr("dy", 6).text("]");
svg.append("text").attr("transform", "translate(47,490) rotate(-90)")
  .attr("text-anchor", "middle").attr("font-size", 15.5).attr("font-weight", "bold")
  .attr("fill", "#1a1a1a").text("U DC module");
svg.append("text").attr("transform", "translate(47,770) rotate(-90)")
  .attr("text-anchor", "middle").attr("font-size", 15.5).attr("font-weight", "bold")
  .attr("fill", "#1a1a1a").text("U DC string");

// legend
const lg = svg.append("g");
lg.append("rect").attr("x", 414).attr("y", 342).attr("width", 393).attr("height", 30).attr("fill", "#d4d4d4");
lg.append("rect").attr("x", 412).attr("y", 340).attr("width", 393).attr("height", 30)
  .attr("fill", "#fff").attr("stroke", "#8a8a8a").attr("stroke-width", 1);
const legendStarts = [422, 500, 580, 654, 732];
seriesNames.forEach((n, i) => {
  const x0 = legendStarts[i];
  lg.append("line").attr("x1", x0).attr("x2", x0 + 46).attr("y1", 356).attr("y2", 356)
    .attr("stroke", seriesColors[i]).attr("stroke-width", 1.2);
  lg.append("text").attr("x", x0 + 60).attr("y", 361).attr("text-anchor", "middle")
    .attr("font-size", 14).attr("fill", "#1a1a1a").text(n);
});

// large annotations
const big = [
  { t: dayKinds[0], x: 148, y: 47, s: 46 },
  { t: dayKinds[1], x: 494, y: 44, s: 47 },
  { t: dayKinds[2], x: 855, y: 47, s: 46.5 },
  { t: "Ref. PV Module", x: 10, y: 384, s: 42 },
  { t: "PV Array", x: 27, y: 644, s: 41 },
  { t: "Tracking issue (at low light)", x: 554, y: 654, s: 46.5 }
];
big.forEach(b => svg.append("text").attr("x", b.x).attr("y", b.y)
  .attr("font-size", b.s).attr("fill", "#000").text(b.t));

// arrows pointing at the tracking jumps
const arrowColor = "#a3a3ec";
const arrows = [[810, 676, 664, 728], [852, 662, 895, 710], [893, 668, 1090, 723]];
const ag = svg.append("g").attr("stroke", arrowColor).attr("stroke-width", 7)
  .attr("stroke-linecap", "round").attr("fill", "none");
arrows.forEach(([x1, y1, x2, y2]) => {
  const a = Math.atan2(y2 - y1, x2 - x1);
  const L = 33, w = 0.55;
  ag.append("line").attr("x1", x1).attr("y1", y1).attr("x2", x2).attr("y2", y2);
  ag.append("path").attr("stroke-linejoin", "round").attr("d",
    `M${x2 - L * Math.cos(a - w)},${y2 - L * Math.sin(a - w)} L${x2},${y2} L${x2 - L * Math.cos(a + w)},${y2 - L * Math.sin(a + w)}`);
});
</script>
</body>
</html>
